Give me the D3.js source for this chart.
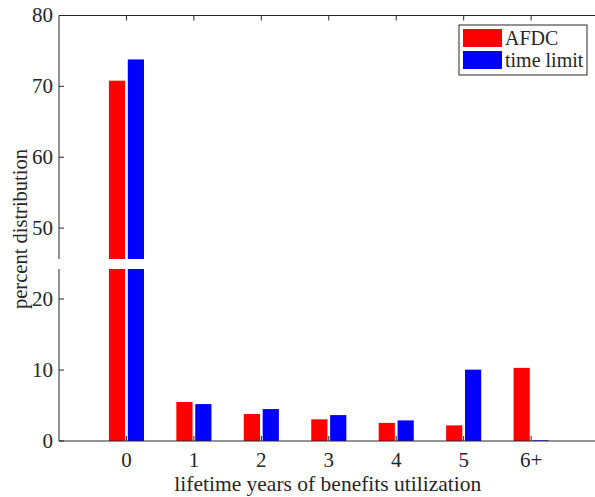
<!DOCTYPE html>
<html>
<head>
<meta charset="utf-8">
<script src="https://cdn.jsdelivr.net/npm/d3@7"></script>
<style>
  body { margin: 0; background: #fff; }
  svg text { font-family: "Liberation Serif", "Times New Roman", Times, serif; fill: #262626; }
</style>
</head>
<body>
<div id="chart"></div>
<script>
var categories = ["0", "1", "2", "3", "4", "5", "6+"];
var seriesNames = ["AFDC", "time limit"];
var afdc = [70.8, 5.5, 3.8, 3.05, 2.55, 2.2, 10.3];
var timeLimit = [73.8, 5.2, 4.5, 3.65, 2.9, 10.05, 0.1];
var yTicks = [0, 10, 20, 50, 60, 70, 80];
var colors = ["#ff0000", "#0000ff"];

var width = 595, height = 497,
    axisColor = "#262626";

var svg = d3.select("#chart").append("svg")
    .attr("width", width)
    .attr("height", height)
    .attr("font-family", "Liberation Serif, Times New Roman, serif");

// categories sit at 0..6, axis runs from -1 to 8 (clipped on the right)
var x = d3.scaleLinear()
    .domain([-1, 8])
    .range([59, 666]);

// broken axis: 25..45 is squeezed out
var y = d3.scaleLinear()
    .domain([0, 25, 45, 80])
    .range([441, 263.5, 263.5, 15.5]);

var step = x(1) - x(0),
    barW = step * 0.24,
    offset = step * 0.14;

var rows = categories.map(function(c, i) { return [afdc[i], timeLimit[i]]; });

var group = svg.selectAll(".cat")
    .data(rows)
    .enter().append("g")
    .attr("class", "cat")
    .attr("transform", function(d, i) { return "translate(" + x(i) + ",0)"; });

group.selectAll("rect")
    .data(function(d) { return d; })
    .enter().append("rect")
    .attr("x", function(d, j) { return (j === 0 ? -offset : offset) - barW / 2; })
    .attr("y", function(d) { return y(d); })
    .attr("width", barW)
    .attr("height", function(d) { return y(0) - y(d); })
    .style("fill", function(d, j) { return colors[j]; });

// white band for the axis break
svg.append("rect")
    .attr("x", 0)
    .attr("y", y(25) - 4.5)
    .attr("width", width)
    .attr("height", 10)
    .style("fill", "#fff");

// axis lines
var axes = svg.append("g").style("stroke", axisColor).style("stroke-width", 1);

axes.append("line")
    .attr("x1", x(-1)).attr("x2", width)
    .attr("y1", y(0)).attr("y2", y(0));
axes.append("line")
    .attr("x1", x(-1)).attr("x2", width)
    .attr("y1", y(80)).attr("y2", y(80));
axes.append("line")
    .attr("x1", x(-1)).attr("x2", x(-1))
    .attr("y1", y(80)).attr("y2", y(25) - 4.5);
axes.append("line")
    .attr("x1", x(-1)).attr("x2", x(-1))
    .attr("y1", y(25) + 5.5).attr("y2", y(0));

// x ticks, bottom and top, pointing inward
axes.selectAll(".xtb")
    .data(categories)
    .enter().append("line")
    .attr("x1", function(d, i) { return x(i); })
    .attr("x2", function(d, i) { return x(i); })
    .attr("y1", y(0)).attr("y2", y(0) - 5);
axes.selectAll(".xtt")
    .data(categories)
    .enter().append("line")
    .attr("x1", function(d, i) { return x(i); })
    .attr("x2", function(d, i) { return x(i); })
    .attr("y1", y(80)).attr("y2", y(80) + 5);

axes.selectAll(".yt")
    .data(yTicks)
    .enter().append("line")
    .attr("x1", x(-1)).attr("x2", x(-1) + 5)
    .attr("y1", function(d) { return y(d); })
    .attr("y2", function(d) { return y(d); });

svg.selectAll(".xlab")
    .data(categories)
    .enter().append("text")
    .attr("x", function(d, i) { return x(i); })
    .attr("y", y(0) + 26)
    .attr("text-anchor", "middle")
    .style("font-size", "21px")
    .text(function(d) { return d; });

svg.selectAll(".ylab")
    .data(yTicks)
    .enter().append("text")
    .attr("x", x(-1) - 6)
    .attr("y", function(d) { return y(d); })
    .attr("dy", ".33em")
    .attr("text-anchor", "end")
    .style("font-size", "21px")
    .text(function(d) { return d; });

svg.append("text")
    .attr("x", x(3) - 1)
    .attr("y", 491)
    .attr("text-anchor", "middle")
    .style("font-size", "21.5px")
    .text("lifetime years of benefits utilization");

svg.append("text")
    .attr("transform", "translate(27," + 229 + ") rotate(-90)")
    .attr("text-anchor", "middle")
    .style("font-size", "20.5px")
    .text("percent distribution");

// legend
var legend = svg.append("g").attr("transform", "translate(459,25)");
legend.append("rect")
    .attr("width", 128).attr("height", 50)
    .style("fill", "#fff")
    .style("stroke", axisColor)
    .style("stroke-width", 1);

var item = legend.selectAll(".item")
    .data(seriesNames)
    .enter().append("g")
    .attr("class", "item")
    .attr("transform", function(d, i) { return "translate(4," + (4 + i * 22) + ")"; });

item.append("rect")
    .attr("width", 39).attr("height", 18)
    .style("fill", function(d, i) { return colors[i]; });

item.append("text")
    .attr("x", 42)
    .attr("y", 9)
    .attr("dy", ".35em")
    .style("font-size", "20px")
    .text(function(d) { return d; });
</script>
</body>
</html>
